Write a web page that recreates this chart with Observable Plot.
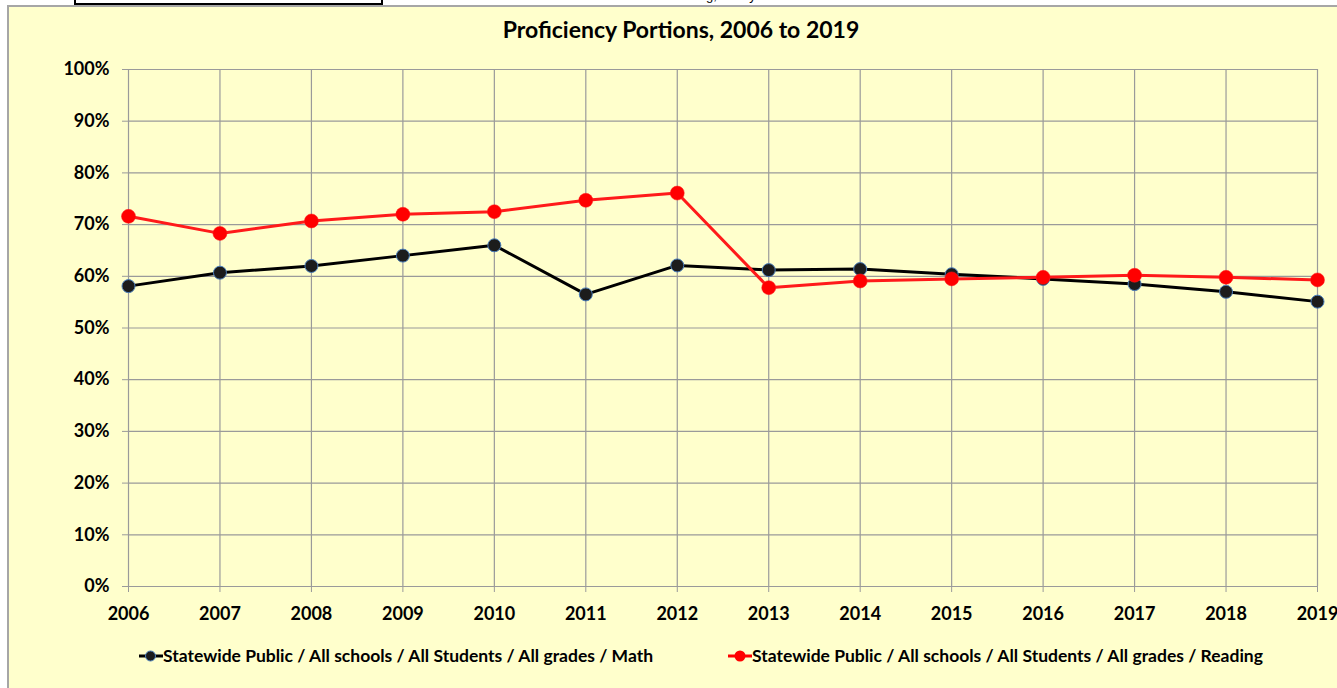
<!DOCTYPE html>
<html><head><meta charset="utf-8">
<script src="https://cdn.jsdelivr.net/npm/d3@7"></script>
<script src="https://cdn.jsdelivr.net/npm/@observablehq/plot@0.6"></script>
<style>
html,body{margin:0;padding:0;background:#fff;overflow:hidden;width:1337px;height:688px;font-family:Lato,"DejaVu Sans",sans-serif;}
#frame{position:absolute;left:7px;top:5px;width:1330px;height:683px;background:#ffffcc;border-left:2px solid #a6a6a6;border-top:2px solid #a6a6a6;box-sizing:border-box;}
#box{position:absolute;left:74px;top:-30px;width:309px;height:35px;border:2px solid #000;box-sizing:border-box;background:#fff;}
#topnote{position:absolute;left:600px;top:0;width:250px;height:4px;overflow:hidden;}
#topnote span{position:absolute;left:20px;top:-12px;font-size:13px;font-family:"Liberation Sans",sans-serif;white-space:nowrap;}
#title{position:absolute;left:0;width:1362px;top:15px;text-align:center;font-weight:bold;font-size:23px;line-height:28px;color:#000;}
#chart{position:absolute;left:0;top:45px;}
.leg{position:absolute;top:645px;height:22px;font-weight:bold;font-size:17.5px;line-height:22px;white-space:nowrap;color:#000;}
.sw{position:absolute;top:650px;}
</style>
</head><body>
<div id="frame"></div>
<div id="box"></div>
<div id="topnote"><span>Math &amp; Reading, Yearly</span></div>
<div id="title">Proficiency Portions, 2006 to 2019</div>
<div id="chart"></div>
<svg class="sw" style="left:139px" width="24" height="12"><line x1="0" y1="6" x2="24" y2="6" stroke="#000" stroke-width="3"/><circle cx="11.5" cy="6" r="5" fill="#1c1c1c" stroke="#4a7ebb" stroke-width="1"/></svg>
<div class="leg" style="left:163px">Statewide Public / All schools / All Students / All grades / Math</div>
<svg class="sw" style="left:728px" width="24" height="12"><line x1="0" y1="6" x2="24" y2="6" stroke="#ff0000" stroke-width="3"/><circle cx="12" cy="6" r="5.5" fill="#ff0000"/></svg>
<div class="leg" style="left:752px">Statewide Public / All schools / All Students / All grades / Reading</div>
<script>
const years = [2006, 2007, 2008, 2009, 2010, 2011, 2012, 2013, 2014, 2015, 2016, 2017, 2018, 2019];
const mathValues = [58.1, 60.7, 62.0, 64.0, 66.0, 56.5, 62.1, 61.2, 61.4, 60.4, 59.5, 58.5, 57.0, 55.1];
const readingValues = [71.6, 68.3, 70.7, 72.0, 72.5, 74.7, 76.1, 57.8, 59.1, 59.5, 59.8, 60.2, 59.8, 59.3];
const yTicks = [0, 0.1, 0.2, 0.3, 0.4, 0.5, 0.6, 0.7, 0.8, 0.9, 1.0];

const mathData = years.map((y, i) => ({year: y, value: mathValues[i] / 100}));
const readingData = years.map((y, i) => ({year: y, value: readingValues[i] / 100}));

const grid = "#9a9a9a";
const chart = Plot.plot({
  width: 1337,
  height: 590,
  marginLeft: 128,
  marginRight: 20,
  marginTop: 24,
  marginBottom: 49,
  style: {background: "transparent", fontFamily: "Lato, sans-serif", fontWeight: "bold", fontSize: "18px", color: "#000", overflow: "visible"},
  x: {domain: [2006, 2019], label: null},
  y: {domain: [0, 1], label: null},
  marks: [
    Plot.gridY(yTicks, {stroke: grid, strokeOpacity: 1, strokeWidth: 1.2}),
    Plot.gridX(years, {stroke: grid, strokeOpacity: 1, strokeWidth: 1.2}),
    Plot.ruleY([0], {stroke: grid, strokeWidth: 1.2}),
    Plot.axisY(yTicks, {tickFormat: d3.format(".0%"), tickSize: 6, tickPadding: 13, stroke: grid, fill: "#000", fontSize: 18, fontWeight: "bold", label: null}),
    Plot.axisX(years, {tickFormat: d => String(d), tickSize: 6, tickPadding: 15, stroke: grid, fill: "#000", fontSize: 18, fontWeight: "bold", label: null}),
    Plot.line(mathData, {x: "year", y: "value", stroke: "#000", strokeWidth: 3}),
    Plot.dot(mathData, {x: "year", y: "value", r: 6.5, fill: "#1c1c1c", stroke: "#4a7ebb", strokeWidth: 1}),
    Plot.line(readingData, {x: "year", y: "value", stroke: "#ff1a1a", strokeWidth: 3}),
    Plot.dot(readingData, {x: "year", y: "value", r: 7, fill: "#ff0000", stroke: "#ff1a1a", strokeWidth: 0.5})
  ]
});
document.getElementById("chart").appendChild(chart);
</script>
</body></html>
